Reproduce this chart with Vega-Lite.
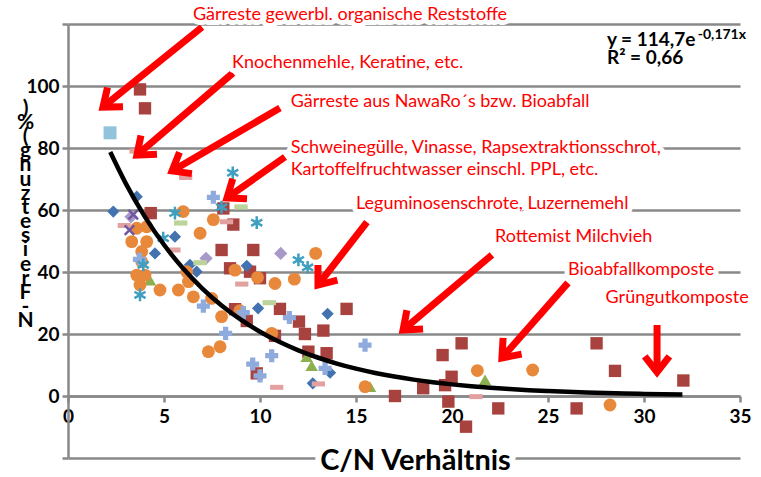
{
  "$schema": "https://vega.github.io/schema/vega-lite/v6.json",
  "width": 672,
  "height": 434,
  "autosize": {"type": "none"},
  "padding": {"left": 68, "top": 24, "right": 21, "bottom": 19},
  "background": "white",
  "config": {"view": {"stroke": null}, "font": "Lato"},
  "datasets": {
    "pts": [
      {"s": "Serie 2", "cn": 3.75, "nf": 98.9}, {"s": "Serie 2", "cn": 4.01, "nf": 92.8}, {"s": "Serie 2", "cn": 4.31, "nf": 59.0},
      {"s": "Serie 2", "cn": 8.09, "nf": 60.5}, {"s": "Serie 2", "cn": 8.61, "nf": 55.3}, {"s": "Serie 2", "cn": 8.0, "nf": 47.1},
      {"s": "Serie 2", "cn": 9.65, "nf": 47.1}, {"s": "Serie 2", "cn": 8.44, "nf": 41.2}, {"s": "Serie 2", "cn": 9.48, "nf": 40.1},
      {"s": "Serie 2", "cn": 10.0, "nf": 38.0}, {"s": "Serie 2", "cn": 8.7, "nf": 28.0}, {"s": "Serie 2", "cn": 9.31, "nf": 24.2},
      {"s": "Serie 2", "cn": 9.83, "nf": 7.3}, {"s": "Serie 2", "cn": 11.04, "nf": 28.1}, {"s": "Serie 2", "cn": 14.51, "nf": 28.1},
      {"s": "Serie 2", "cn": 12.03, "nf": 24.0}, {"s": "Serie 2", "cn": 12.34, "nf": 20.0}, {"s": "Serie 2", "cn": 13.3, "nf": 21.1},
      {"s": "Serie 2", "cn": 10.78, "nf": 19.4}, {"s": "Serie 2", "cn": 12.52, "nf": 14.3}, {"s": "Serie 2", "cn": 13.47, "nf": 13.8},
      {"s": "Serie 2", "cn": 17.03, "nf": 0.0}, {"s": "Serie 2", "cn": 18.5, "nf": 2.5}, {"s": "Serie 2", "cn": 20.5, "nf": 17.0},
      {"s": "Serie 2", "cn": 19.51, "nf": 13.2}, {"s": "Serie 2", "cn": 19.98, "nf": 6.2}, {"s": "Serie 2", "cn": 19.64, "nf": 3.5},
      {"s": "Serie 2", "cn": 19.81, "nf": -1.8}, {"s": "Serie 2", "cn": 22.41, "nf": -4.0}, {"s": "Serie 2", "cn": 20.73, "nf": -9.9},
      {"s": "Serie 2", "cn": 26.49, "nf": -4.0}, {"s": "Serie 2", "cn": 27.53, "nf": 17.0}, {"s": "Serie 2", "cn": 28.49, "nf": 8.1},
      {"s": "Serie 2", "cn": 32.05, "nf": 5.0},
      {"s": "Serie 1", "cn": 2.36, "nf": 59.5}, {"s": "Serie 1", "cn": 3.58, "nf": 64.3}, {"s": "Serie 1", "cn": 5.57, "nf": 51.4},
      {"s": "Serie 1", "cn": 4.53, "nf": 46.0}, {"s": "Serie 1", "cn": 6.35, "nf": 42.3}, {"s": "Serie 1", "cn": 6.7, "nf": 40.1},
      {"s": "Serie 1", "cn": 9.31, "nf": 42.0}, {"s": "Serie 1", "cn": 9.9, "nf": 28.3}, {"s": "Serie 1", "cn": 13.52, "nf": 26.5},
      {"s": "Serie 1", "cn": 13.65, "nf": 7.5}, {"s": "Serie 1", "cn": 12.75, "nf": 4.1},
      {"s": "Serie 3", "cn": 4.27, "nf": 37.4}, {"s": "Serie 3", "cn": 12.43, "nf": 12.7}, {"s": "Serie 3", "cn": 12.69, "nf": 9.8},
      {"s": "Serie 3", "cn": 15.73, "nf": 3.0}, {"s": "Serie 3", "cn": 21.72, "nf": 5.2},
      {"s": "Serie 6", "cn": 6.0, "nf": 59.5}, {"s": "Serie 6", "cn": 7.57, "nf": 56.9}, {"s": "Serie 6", "cn": 3.58, "nf": 54.1},
      {"s": "Serie 6", "cn": 4.1, "nf": 54.6}, {"s": "Serie 6", "cn": 3.32, "nf": 49.8}, {"s": "Serie 6", "cn": 4.1, "nf": 49.8},
      {"s": "Serie 6", "cn": 3.84, "nf": 46.6}, {"s": "Serie 6", "cn": 3.84, "nf": 43.3}, {"s": "Serie 6", "cn": 3.58, "nf": 39.0},
      {"s": "Serie 6", "cn": 4.01, "nf": 39.0}, {"s": "Serie 6", "cn": 3.75, "nf": 35.8}, {"s": "Serie 6", "cn": 4.79, "nf": 34.2},
      {"s": "Serie 6", "cn": 5.75, "nf": 34.2}, {"s": "Serie 6", "cn": 6.53, "nf": 32.0}, {"s": "Serie 6", "cn": 6.88, "nf": 52.5},
      {"s": "Serie 6", "cn": 6.18, "nf": 40.1}, {"s": "Serie 6", "cn": 6.27, "nf": 36.9}, {"s": "Serie 6", "cn": 7.48, "nf": 31.5},
      {"s": "Serie 6", "cn": 8.0, "nf": 25.6}, {"s": "Serie 6", "cn": 7.92, "nf": 15.9}, {"s": "Serie 6", "cn": 7.31, "nf": 14.3},
      {"s": "Serie 6", "cn": 8.7, "nf": 40.6}, {"s": "Serie 6", "cn": 9.87, "nf": 38.2}, {"s": "Serie 6", "cn": 8.95, "nf": 27.5},
      {"s": "Serie 6", "cn": 10.78, "nf": 36.3}, {"s": "Serie 6", "cn": 11.79, "nf": 37.7}, {"s": "Serie 6", "cn": 12.9, "nf": 46.0},
      {"s": "Serie 6", "cn": 10.61, "nf": 20.2}, {"s": "Serie 6", "cn": 15.47, "nf": 3.0}, {"s": "Serie 6", "cn": 21.32, "nf": 8.2},
      {"s": "Serie 6", "cn": 24.2, "nf": 8.4}, {"s": "Serie 6", "cn": 28.23, "nf": -2.9},
      {"s": "Serie 10", "cn": 3.28, "nf": 57.8}, {"s": "Serie 10", "cn": 7.19, "nf": 44.4}, {"s": "Serie 10", "cn": 11.08, "nf": 46.0},
      {"s": "Serie 7", "cn": 2.19, "nf": 84.9},
      {"s": "Serie 8", "cn": 7.57, "nf": 64.1}, {"s": "Serie 8", "cn": 3.72, "nf": 44.1}, {"s": "Serie 8", "cn": 7.05, "nf": 29.0},
      {"s": "Serie 8", "cn": 8.21, "nf": 20.2}, {"s": "Serie 8", "cn": 9.62, "nf": 10.3}, {"s": "Serie 8", "cn": 9.13, "nf": 26.9},
      {"s": "Serie 8", "cn": 11.53, "nf": 25.3}, {"s": "Serie 8", "cn": 10.61, "nf": 13.0}, {"s": "Serie 8", "cn": 10.0, "nf": 6.5},
      {"s": "Serie 8", "cn": 13.39, "nf": 8.9}, {"s": "Serie 8", "cn": 15.47, "nf": 16.4},
      {"s": "Serie 9", "cn": 3.54, "nf": 79.0}, {"s": "Serie 9", "cn": 6.13, "nf": 70.5}, {"s": "Serie 9", "cn": 2.93, "nf": 55.0},
      {"s": "Serie 9", "cn": 8.26, "nf": 56.2}, {"s": "Serie 9", "cn": 5.52, "nf": 47.1}, {"s": "Serie 9", "cn": 9.05, "nf": 36.1},
      {"s": "Serie 9", "cn": 10.87, "nf": 2.8}, {"s": "Serie 9", "cn": 13.04, "nf": 3.9}, {"s": "Serie 9", "cn": 21.25, "nf": -0.2},
      {"s": "Serie 11", "cn": 9.01, "nf": 61.0}, {"s": "Serie 11", "cn": 5.87, "nf": 55.8}, {"s": "Serie 11", "cn": 6.88, "nf": 43.0},
      {"s": "Serie 11", "cn": 10.48, "nf": 30.1}
    ],
    "pts2": [
      {"s": "Serie 5", "cn": 8.58, "nf": 72.0}, {"s": "Serie 5", "cn": 8.0, "nf": 60.9}, {"s": "Serie 5", "cn": 9.83, "nf": 55.9},
      {"s": "Serie 5", "cn": 5.57, "nf": 59.0}, {"s": "Serie 5", "cn": 4.96, "nf": 50.9}, {"s": "Serie 5", "cn": 3.92, "nf": 42.3},
      {"s": "Serie 5", "cn": 3.75, "nf": 32.6}, {"s": "Serie 5", "cn": 12.0, "nf": 43.9}, {"s": "Serie 5", "cn": 12.48, "nf": 41.5},
      {"s": "Serie 4", "cn": 3.4, "nf": 58.5}, {"s": "Serie 4", "cn": 3.2, "nf": 53.5}
    ],
    "trend": [
      {"cn": 2.2, "nf": 78.7}, {"cn": 3, "nf": 68.67}, {"cn": 4, "nf": 57.88}, {"cn": 5, "nf": 48.78}, {"cn": 6, "nf": 41.11},
      {"cn": 7, "nf": 34.65}, {"cn": 8, "nf": 29.2}, {"cn": 9, "nf": 24.61}, {"cn": 10, "nf": 20.75}, {"cn": 11, "nf": 17.48},
      {"cn": 12, "nf": 14.74}, {"cn": 13, "nf": 12.42}, {"cn": 14, "nf": 10.47}, {"cn": 15, "nf": 8.82}, {"cn": 16, "nf": 7.44},
      {"cn": 17, "nf": 6.27}, {"cn": 18, "nf": 5.28}, {"cn": 19, "nf": 4.45}, {"cn": 20, "nf": 3.75}, {"cn": 21, "nf": 3.16},
      {"cn": 22, "nf": 2.66}, {"cn": 23, "nf": 2.25}, {"cn": 24, "nf": 1.89}, {"cn": 25, "nf": 1.6}, {"cn": 26, "nf": 1.34},
      {"cn": 27, "nf": 1.13}, {"cn": 28, "nf": 0.95}, {"cn": 29, "nf": 0.8}, {"cn": 30, "nf": 0.68}, {"cn": 31, "nf": 0.57},
      {"cn": 32, "nf": 0.48}
    ],
    "arrows": [
      {"cn": 1.82, "nf": 93.2, "cn2": 6.98, "nf2": 119.0, "a": 141.1},
      {"cn": 3.59, "nf": 77.7, "cn2": 8.59, "nf2": 104.2, "a": 139.5},
      {"cn": 5.42, "nf": 72.6, "cn2": 11.04, "nf2": 92.9, "a": 149.7},
      {"cn": 8.28, "nf": 63.9, "cn2": 11.3, "nf2": 77.1, "a": 144.7},
      {"cn": 13.02, "nf": 35.8, "cn2": 15.57, "nf2": 56.1, "a": 127.9},
      {"cn": 17.45, "nf": 21.3, "cn2": 22.08, "nf2": 45.5, "a": 139.1},
      {"cn": 22.6, "nf": 12.3, "cn2": 26.04, "nf2": 36.5, "a": 131.3},
      {"cn": 30.68, "nf": 7.7, "cn2": 30.68, "nf2": 22.9, "a": 90}
    ],
    "notes": [
      {"t": "Gärreste gewerbl. organische Reststoffe", "cn": 6.51, "nf": 122.9},
      {"t": "Knochenmehle, Keratine, etc.", "cn": 8.54, "nf": 107.5},
      {"t": "Gärreste aus NawaRo´s bzw. Bioabfall", "cn": 11.6, "nf": 94.8},
      {"t": "Schweinegülle, Vinasse, Rapsextraktionsschrot,", "cn": 11.6, "nf": 80.0},
      {"t": "Kartoffelfruchtwasser einschl. PPL, etc.", "cn": 11.6, "nf": 73.0},
      {"t": "Leguminosenschrote, Luzernemehl", "cn": 15.0, "nf": 62.0},
      {"t": "Rottemist Milchvieh", "cn": 22.24, "nf": 51.3},
      {"t": "Bioabfallkomposte", "cn": 26.04, "nf": 40.6},
      {"t": "Grüngutkomposte", "cn": 28.0, "nf": 31.6}
    ],
    "eq": [
      {"t": "y = 114,7e", "cn": 28.07, "nf": 114.8},
      {"t": "R² = 0,66", "cn": 28.07, "nf": 109.0}
    ],
    "eqsup": [
      {"t": "-0,171x", "cn": 32.8, "nf": 116.6}
    ],
    "xtitle": [
      {"t": "C/N Verhältnis", "cn": 18.1, "nf": -20}
    ]
  },
  "encoding": {
    "x": {
      "field": "cn", "type": "quantitative",
      "scale": {"domain": [0, 35], "nice": false, "zero": false},
      "axis": {
        "title": null, "values": [0, 5, 10, 15, 20, 25, 30, 35], "offset": -62, "grid": false,
        "domainColor": "#898989", "domainWidth": 2.5, "tickColor": "#898989", "tickWidth": 2.5, "tickSize": 6,
        "labelFont": "Lato", "labelFontWeight": "bold", "labelFontSize": 19, "labelColor": "black",
        "labelPadding": 5, "labelFlush": false, "labelOverlap": false
      }
    },
    "y": {
      "field": "nf", "type": "quantitative",
      "scale": {"domain": [-20, 120], "nice": false, "zero": false},
      "axis": {
        "values": [-20, 0, 20, 40, 60, 80, 100, 120], "grid": true, "gridColor": "#898989", "gridWidth": 2.5,
        "domainColor": "#898989", "domainWidth": 2.5, "tickColor": "#898989", "tickWidth": 2.5, "tickSize": 6,
        "labelFont": "Lato", "labelFontWeight": "bold", "labelFontSize": 19, "labelColor": "black",
        "labelPadding": 3, "labelOverlap": false,
        "labelExpr": "datum.value < 0 || datum.value > 100 ? '' : datum.label",
        "title": [")", "%", "(", "g", "n", "u", "z", "t", "e", "s", "i", "e", "r", "F", "-", "N"],
        "titleAngle": 0, "titleX": -43, "titleY": 84, "titleAlign": "center", "titleBaseline": "middle",
        "titleLineHeight": 14.2, "titleFontSize": 21, "titleFontWeight": "bold", "titleColor": "black", "titleFont": "Lato"
      }
    }
  },
  "layer": [
    {
      "data": {"name": "pts"},
      "mark": {"type": "point", "filled": true, "opacity": 1},
      "encoding": {
        "color": {"field": "s", "type": "nominal", "legend": null,
          "scale": {"domain": ["Serie 1", "Serie 2", "Serie 3", "Serie 4", "Serie 5", "Serie 6", "Serie 7", "Serie 8", "Serie 9", "Serie 10", "Serie 11"],
                    "range": ["#4372B0", "#A8423F", "#8DB04F", "#7157A0", "#3E9FC0", "#E8883A", "#91C3DA", "#8FAADC", "#E3A0A0", "#A899C9", "#BCD49A"]}},
        "shape": {"field": "s", "type": "nominal", "legend": null,
          "scale": {"domain": ["Serie 1", "Serie 2", "Serie 3", "Serie 4", "Serie 5", "Serie 6", "Serie 7", "Serie 8", "Serie 9", "Serie 10", "Serie 11"],
                    "range": ["diamond", "square", "triangle-up", "M-0.75,-0.75L0.75,0.75M-0.75,0.75L0.75,-0.75", "M0,-1L0,1M-0.87,-0.5L0.87,0.5M-0.87,0.5L0.87,-0.5", "circle", "square", "cross", "M-1,-0.38L1,-0.38L1,0.38L-1,0.38Z", "diamond", "M-1,-0.38L1,-0.38L1,0.38L-1,0.38Z"]}},
        "size": {"field": "s", "type": "nominal", "legend": null,
          "scale": {"domain": ["Serie 1", "Serie 2", "Serie 3", "Serie 4", "Serie 5", "Serie 6", "Serie 7", "Serie 8", "Serie 9", "Serie 10", "Serie 11"],
                    "range": [150, 180, 150, 150, 180, 180, 170, 150, 110, 150, 160]}}
      }
    },
    {
      "data": {"name": "pts2"},
      "mark": {"type": "point", "filled": false, "opacity": 1, "strokeWidth": 2.5},
      "encoding": {
        "color": {"field": "s", "type": "nominal", "legend": null,
          "scale": {"domain": ["Serie 1", "Serie 2", "Serie 3", "Serie 4", "Serie 5", "Serie 6", "Serie 7", "Serie 8", "Serie 9", "Serie 10", "Serie 11"],
                    "range": ["#4372B0", "#A8423F", "#8DB04F", "#7157A0", "#3E9FC0", "#E8883A", "#91C3DA", "#8FAADC", "#E3A0A0", "#A899C9", "#BCD49A"]}},
        "shape": {"field": "s", "type": "nominal", "legend": null,
          "scale": {"domain": ["Serie 1", "Serie 2", "Serie 3", "Serie 4", "Serie 5", "Serie 6", "Serie 7", "Serie 8", "Serie 9", "Serie 10", "Serie 11"],
                    "range": ["diamond", "square", "triangle-up", "M-0.75,-0.75L0.75,0.75M-0.75,0.75L0.75,-0.75", "M0,-1L0,1M-0.87,-0.5L0.87,0.5M-0.87,0.5L0.87,-0.5", "circle", "square", "cross", "M-1,-0.38L1,-0.38L1,0.38L-1,0.38Z", "diamond", "M-1,-0.38L1,-0.38L1,0.38L-1,0.38Z"]}},
        "size": {"field": "s", "type": "nominal", "legend": null,
          "scale": {"domain": ["Serie 1", "Serie 2", "Serie 3", "Serie 4", "Serie 5", "Serie 6", "Serie 7", "Serie 8", "Serie 9", "Serie 10", "Serie 11"],
                    "range": [150, 180, 150, 150, 180, 180, 170, 150, 110, 150, 160]}}
      }
    },
    {
      "data": {"name": "trend"},
      "mark": {"type": "line", "color": "black", "strokeWidth": 4.5, "interpolate": "monotone"},
      "encoding": {}
    },
    {
      "data": {"name": "arrows"},
      "mark": {"type": "rule", "color": "#FF0000", "strokeWidth": 7},
      "encoding": {
        "x2": {"field": "cn2"},
        "y2": {"field": "nf2"}
      }
    },
    {
      "data": {"name": "arrows"},
      "mark": {"type": "point", "shape": "M-1,-0.78L0,0L-1,0.78", "filled": false, "stroke": "#FF0000", "strokeWidth": 7, "size": 1000, "opacity": 1, "strokeJoin": "miter"},
      "encoding": {
        "angle": {"field": "a", "type": "quantitative", "scale": null}
      }
    },
    {
      "data": {"name": "notes"},
      "mark": {"type": "text", "align": "left", "baseline": "middle", "font": "Lato", "fontSize": 18, "fill": "white", "stroke": "white", "strokeWidth": 10, "strokeJoin": "round"},
      "encoding": {"text": {"field": "t"}}
    },
    {
      "data": {"name": "notes"},
      "mark": {"type": "text", "align": "left", "baseline": "middle", "font": "Lato", "fontSize": 18, "fill": "#FF0000"},
      "encoding": {"text": {"field": "t"}}
    },
    {
      "data": {"name": "eq"},
      "mark": {"type": "text", "align": "left", "baseline": "middle", "font": "Lato", "fontSize": 19, "fontWeight": "bold", "fill": "black"},
      "encoding": {"text": {"field": "t"}}
    },
    {
      "data": {"name": "eqsup"},
      "mark": {"type": "text", "align": "left", "baseline": "middle", "font": "Lato", "fontSize": 14, "fontWeight": "bold", "fill": "black"},
      "encoding": {"text": {"field": "t"}}
    },
    {
      "data": {"name": "xtitle"},
      "mark": {"type": "text", "align": "center", "baseline": "alphabetic", "dy": 12, "font": "Lato", "fontSize": 29, "fontWeight": "bold", "fill": "white", "stroke": "white", "strokeWidth": 12, "strokeJoin": "round"},
      "encoding": {"text": {"field": "t"}}
    },
    {
      "data": {"name": "xtitle"},
      "mark": {"type": "text", "align": "center", "baseline": "alphabetic", "dy": 12, "font": "Lato", "fontSize": 29, "fontWeight": "bold", "fill": "black"},
      "encoding": {"text": {"field": "t"}}
    }
  ]
}
